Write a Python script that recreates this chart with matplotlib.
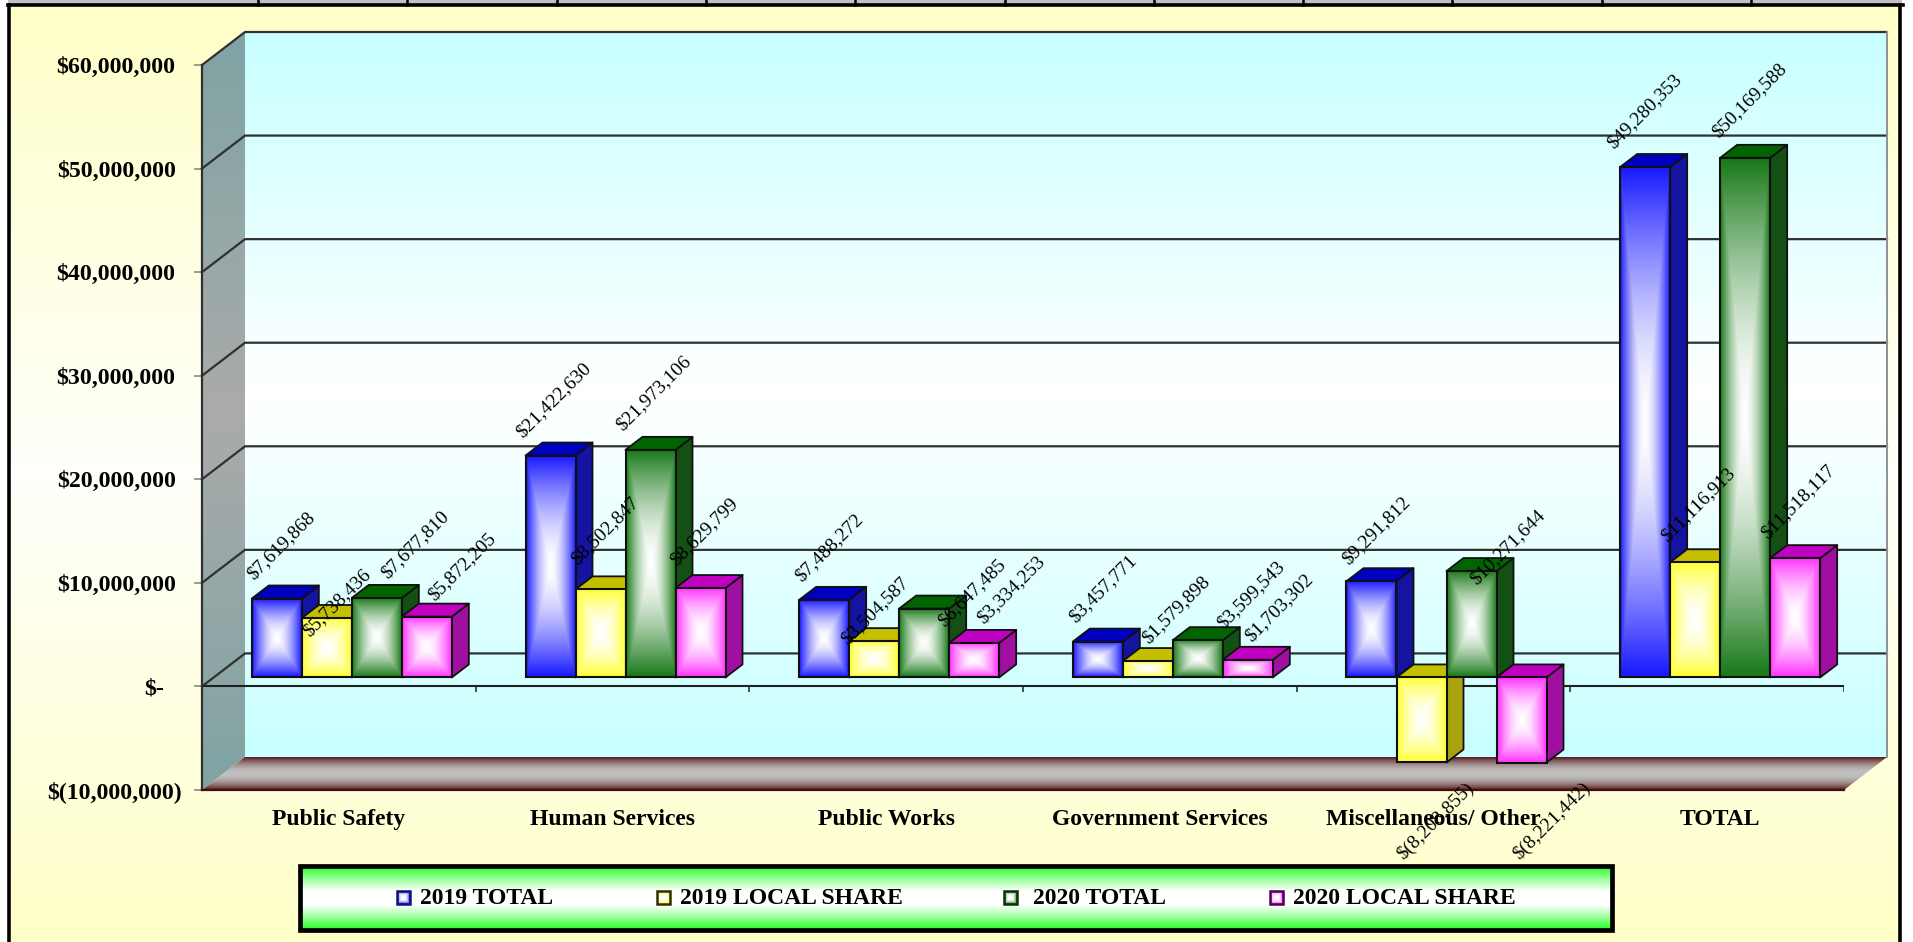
"""Budget comparison chart, fake 3D columns in the old spreadsheet look."""

import matplotlib
matplotlib.use("Agg")
import matplotlib.pyplot as plt
import numpy as np
from matplotlib.colors import to_rgb
from matplotlib.patches import Polygon, Rectangle
from matplotlib.transforms import ScaledTranslation

categories = ["Public Safety", "Human Services", "Public Works",
              "Government Services", "Miscellaneous/ Other", "TOTAL"]
series_names = ["2019 TOTAL", "2019 LOCAL SHARE", "2020 TOTAL", "2020 LOCAL SHARE"]

total_2019 = [7619868, 21422630, 7488272, 3457771, 9291812, 49280353]
local_2019 = [5738436, 8502847, 3504587, 1579898, -8208855, 11116913]
total_2020 = [7677810, 21973106, 6647485, 3599543, 10271644, 50169588]
local_2020 = [5872205, 8629799, 3334253, 1703302, -8221442, 11518117]

y_ticks = [-10000000, 0, 10000000, 20000000, 30000000, 40000000, 50000000, 60000000]
y_tick_labels = ["$(10,000,000)", "$-", "$10,000,000", "$20,000,000", "$30,000,000",
                 "$40,000,000", "$50,000,000", "$60,000,000"]

# front, top, side colours per series
FRONT = ["#1a1aff", "#ffff33", "#1a7a1a", "#ff33ff"]
TOP = ["#0000c0", "#c4c000", "#006400", "#c000c0"]
SIDE = ["#1414a0", "#a8a410", "#145014", "#a010a0"]
LEGEND_EDGE = ["#10107a", "#303000", "#0c300c", "#500050"]

# label start relative to the bar's left/top corner, pixels
LABEL_NUDGE = [
    [(1, 19), (-3, 18), (2, 18), (2, 19), (2, 16), (-7, 18)],
    [(7, -19), (2, 24), (-2, -4), (25, 17), (7, -98), (-3, 20)],
    [(35, 19), (-3, 19), (45, -18), (50, 11), (30, -14), (-2, 20)],
    [(32, 16), (1, 22), (34, 19), (28, 18), (23, -98), (-3, 19)],
]

W, H = 1913, 942
FONT = "Liberation Serif"

# plot placement in pixels
X0, X1 = 202, 1844
Y_TOP, Y_BOT = 65, 790
PX_X = (X1 - X0) / 6
PX_Y = (Y_BOT - Y_TOP) / 70e6
WALL_DX, WALL_DY = 43 / PX_X, 33 / PX_Y
BAR_W = 50 / PX_X
BAR_DX, BAR_DY = 17 / PX_X, 13 / PX_Y
BAR_SHIFT = 13 / PX_X
BAR_LIFT = 9 / PX_Y


def vertical_fade(edge, mid, n=256, plateau=0.0, power=1.0):
    """Colour column going edge -> mid -> edge from top to bottom."""
    edge, mid = np.array(to_rgb(edge)), np.array(to_rgb(mid))
    t = np.abs(np.linspace(-1, 1, n))
    t = (np.clip(t - plateau, 0, None) / (1 - plateau)) ** power
    t = t[:, None, None]
    return t * edge + (1 - t) * mid


def box_fade(edge, mid="#ffffff", n=80, power=1.6):
    """Rectangular gradient, mid colour in the centre and edge colour on the rim."""
    edge, mid = np.array(to_rgb(edge)), np.array(to_rgb(mid))
    u, v = np.meshgrid(np.linspace(-1, 1, n), np.linspace(-1, 1, n))
    t = (np.maximum(np.abs(u), np.abs(v)) ** power)[:, :, None]
    return t * edge + (1 - t) * mid


def paint(ax, img, extent, zorder, clip=None):
    """Show a gradient over extent, optionally clipped to a polygon."""
    im = ax.imshow(img, extent=extent, aspect="auto", interpolation="bilinear",
                   origin="upper", zorder=zorder)
    im.set_clip_box(ax.figure.bbox)
    if clip is not None:
        im.set_clip_path(clip)
    return im


def draw_page(fig):
    """Page background, frame and the cut off strip on top (pixel coordinates)."""
    bg = fig.add_axes([0, 0, 1, 1], zorder=-1)
    bg.set_xlim(0, W)
    bg.set_ylim(H, 0)
    bg.axis("off")
    bg.imshow(vertical_fade("#ffffc8", "#fffffc"), extent=[9, 1900, H, 5],
              aspect="auto", zorder=0)
    bg.set_xlim(0, W)
    bg.set_ylim(H, 0)
    bg.add_patch(Rectangle((8, 0), 1894, 4, fc="#c0c0c0", ec="none", zorder=1))
    bg.plot([8, 1903], [5, 5], color="black", lw=2.6, zorder=2)
    bg.plot([9, 9], [5, H], color="black", lw=2.6, zorder=2)
    bg.plot([1900, 1900], [5, H], color="black", lw=2.6, zorder=2)
    for x in 258 + 149.3 * np.arange(11):
        bg.plot([x, x], [0, 5], color="black", lw=1.8, zorder=2)
    return bg


def draw_room(ax):
    """Side wall, back wall, floor and grid lines."""
    ymin, ymax = y_ticks[0], y_ticks[-1]
    back_top, back_bot = ymax + WALL_DY, ymin + WALL_DY

    paint(ax, vertical_fade("#c8ffff", "#ffffff"),
          [WALL_DX, 6 + WALL_DX, back_bot, back_top], 1)

    side = Polygon([(0, ymin), (WALL_DX, back_bot), (WALL_DX, back_top), (0, ymax)],
                   closed=True, fc="none", ec="none", transform=ax.transData)
    ax.add_patch(side)
    paint(ax, vertical_fade("#7fa3a3", "#ababab"), [0, WALL_DX, ymin, back_top], 1, side)

    floor = Polygon([(0, ymin), (6, ymin), (6 + WALL_DX, back_bot), (WALL_DX, back_bot)],
                    closed=True, fc="none", ec="none", transform=ax.transData)
    ax.add_patch(floor)
    paint(ax, vertical_fade("#5a1414", "#c0c0c0", power=2.0),
          [0, 6 + WALL_DX, ymin, back_bot], 1.5, floor)

    for v in y_ticks[1:]:
        ax.plot([0, WALL_DX, 6 + WALL_DX], [v, v + WALL_DY, v + WALL_DY],
                color="#303030", lw=1.6, zorder=2, clip_on=False)
    ax.plot([6 + WALL_DX] * 2, [back_bot, back_top], color="#909090", lw=1.4, zorder=2, clip_on=False)
    ax.plot([0, 0], [ymin, ymax], color="#303030", lw=1.6, zorder=3, clip_on=False)
    ax.plot([0, 6], [ymin, ymin], color="#401010", lw=1.6, zorder=3, clip_on=False)
    ax.plot([0, 6], [0, 0], color="#202020", lw=1.5, zorder=2.5)
    ax.vlines(np.arange(7), -6 / PX_Y, 0, color="#202020", lw=1.1, zorder=2.5)


def draw_bar(ax, left, value, s, z):
    """One column: front gradient with top and side faces."""
    right = left + BAR_W
    base = BAR_LIFT
    upper = max(value + base, base)
    lower = min(value + base, base)
    outline = {"ec": "#101010", "lw": 1.3, "zorder": z, "joinstyle": "round"}

    ax.add_patch(Polygon([(right, lower), (right + BAR_DX, lower + BAR_DY),
                          (right + BAR_DX, upper + BAR_DY), (right, upper)],
                         closed=True, fc=SIDE[s], **outline))
    ax.add_patch(Polygon([(left, upper), (left + BAR_DX, upper + BAR_DY),
                          (right + BAR_DX, upper + BAR_DY), (right, upper)],
                         closed=True, fc=TOP[s], **outline))
    paint(ax, box_fade(FRONT[s]), [left, right, lower, upper], z + 0.01)
    ax.add_patch(Rectangle((left, lower), BAR_W, upper - lower, fc="none",
                           ec="#101010", lw=1.5, zorder=z + 0.02))
    return upper if value >= 0 else lower


def draw_bars(ax):
    series = [total_2019, local_2019, total_2020, local_2020]
    for g in range(len(categories)):
        first = g + 0.5 + BAR_SHIFT - 2 * BAR_W
        for s, values in enumerate(series):
            left = first + s * BAR_W
            edge = draw_bar(ax, left, values[g], s, 4 + g + s * 0.1)
            value = values[g]
            text = f"${value:,}" if value >= 0 else f"$({-value:,})"
            ax.annotate(text, (left, edge), xytext=LABEL_NUDGE[s][g],
                        textcoords="offset pixels", rotation=45, rotation_mode="anchor",
                        ha="left", va="baseline", family=FONT, fontsize=14,
                        color="black", zorder=20, annotation_clip=False)


def draw_legend(bg):
    """Green box below the plot, in page pixels."""
    bg.imshow(vertical_fade("#22ff22", "#ffffff", plateau=0.2, power=1.1),
              extent=[300, 1612, 930, 866], aspect="auto", zorder=3)
    bg.set_xlim(0, W)
    bg.set_ylim(H, 0)
    bg.add_patch(Rectangle((300, 866), 1312, 64, fc="none", ec="black", lw=3.4, zorder=4))
    swatch_x = [397, 657, 1004, 1270]
    text_x = [420, 680, 1033, 1293]
    for s, name in enumerate(series_names):
        x = swatch_x[s]
        bg.imshow(box_fade(FRONT[s], power=3.0, n=16), extent=[x, x + 13, 904, 891],
                  aspect="auto", zorder=5)
        bg.add_patch(Rectangle((x, 891), 13, 13, fc="none", ec=LEGEND_EDGE[s], lw=1.8, zorder=6))
        bg.text(text_x[s], 898, name, family=FONT, weight="bold", fontsize=17,
                ha="left", va="center", zorder=6)
    bg.set_xlim(0, W)
    bg.set_ylim(H, 0)


def shift_label(fig, label, px):
    """Move a tick label sideways by some pixels."""
    label.set_transform(label.get_transform() + ScaledTranslation(px / 100, 0, fig.dpi_scale_trans))


def main():
    fig = plt.figure(figsize=(W / 100, H / 100), dpi=100, facecolor="white")
    bg = draw_page(fig)

    ax = fig.add_axes([X0 / W, 1 - Y_BOT / H, (X1 - X0) / W, (Y_BOT - Y_TOP) / H], zorder=1)
    ax.patch.set_visible(False)
    ax.set_autoscale_on(False)
    ax.set_xlim(0, 6)
    ax.set_ylim(y_ticks[0], y_ticks[-1])
    for spine in ax.spines.values():
        spine.set_visible(False)

    draw_room(ax)
    draw_bars(ax)

    ax.set_yticks(y_ticks, y_tick_labels, family=FONT, weight="bold", fontsize=17.2)
    ax.set_xticks(np.arange(6) + 0.5, categories, family=FONT, weight="bold", fontsize=17)
    ax.tick_params(axis="y", length=6, width=1.1, color="#808080", pad=13)
    ax.tick_params(axis="x", length=0, pad=14)

    # the source keeps accounting-style padding on these labels
    ylabels = ax.get_yticklabels()
    shift_label(fig, ylabels[0], 6)
    shift_label(fig, ylabels[1], -12)
    shift_label(fig, ax.get_xticklabels()[-1], 13)

    draw_legend(bg)
    fig.savefig("out.png", dpi=100)


if __name__ == "__main__":
    main()
